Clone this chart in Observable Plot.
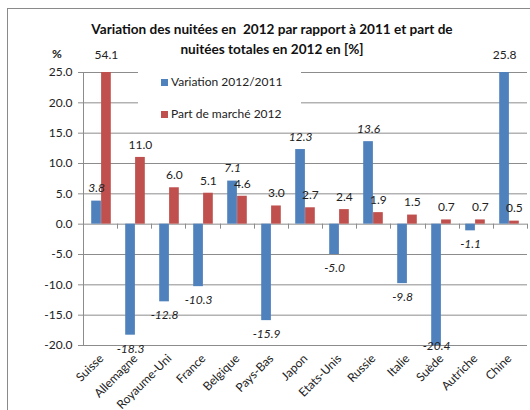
<!DOCTYPE html>
<html>
<head>
<meta charset="utf-8">
<script src="https://cdn.jsdelivr.net/npm/d3@7"></script>
<script src="https://cdn.jsdelivr.net/npm/@observablehq/plot@0.6"></script>
<style>
  html, body { margin: 0; padding: 0; background: #fff; }
  #wrap { position: relative; width: 530px; height: 410px; overflow: hidden; font-family: Lato, "Liberation Sans", sans-serif; color: #222; }
  #frame { position: absolute; left: 7px; top: 8px; width: 540px; height: 420px; border-left: 1px solid #8a8a8a; border-top: 1px solid #8a8a8a; }
  #title { position: absolute; left: 72px; width: 400px; top: 19px; text-align: center; font-weight: bold; font-size: 13.6px; line-height: 20px; color: #111; white-space: nowrap; }
  #pct { position: absolute; left: 52px; top: 46px; font-size: 12px; font-weight: bold; }
  #legend { position: absolute; left: 138px; top: 65px; width: 163px; height: 60px; background: #fff; font-size: 12px; }
  .li { position: absolute; left: 23px; height: 16px; line-height: 16px; white-space: nowrap; }
  .sw { display: inline-block; width: 7px; height: 7px; margin-right: 3px; vertical-align: 0px; }
  #chart { position: absolute; left: 0; top: 0; }
</style>
</head>
<body>
<div id="wrap">
  <div id="chart"></div>
  <div id="frame"></div>
  <div id="title">Variation des nuitées en&nbsp; 2012 par rapport à 2011 et part de<br>nuitées totales en 2012 en [%]</div>
  <div id="pct">%</div>
  <div id="legend"></div>
</div>
<script>
const countries = ["Suisse", "Allemagne", "Royaume-Uni", "France", "Belgique", "Pays-Bas", "Japon", "Etats-Unis", "Russie", "Italie", "Suède", "Autriche", "Chine"];
const variation = [3.8, -18.3, -12.8, -10.3, 7.1, -15.9, 12.3, -5.0, 13.6, -9.8, -20.4, -1.1, 25.8];
const partMarche = [54.1, 11.0, 6.0, 5.1, 4.6, 3.0, 2.7, 2.4, 1.9, 1.5, 0.7, 0.7, 0.5];
const seriesNames = ["Variation 2012/2011", "Part de marché 2012"];
const yTicks = [-20, -15, -10, -5, 0, 5, 10, 15, 20, 25];
const yMin = -20, yMax = 25;

const BLUE = "#4f81bd", RED = "#c0504d";

const rows = countries.map((c, i) => ({country: c, variation: variation[i], part: partMarche[i]}));
const clampV = v => Math.max(yMin, Math.min(yMax, v));

function labelMarks(key, dx, italic) {
  const base = {x: "country", text: d => d[key].toFixed(1), dx, fill: "#222", fontSize: 12};
  return [
    Plot.text(rows.filter(d => d[key] >= 0 && d[key] <= yMax), {...base, y: d => d[key], dy: -12.5, fontStyle: italic ? "italic" : "normal"}),
    Plot.text(rows.filter(d => d[key] < 0 && d[key] >= yMin), {...base, y: d => d[key], dy: 13.5, fontStyle: italic ? "italic" : "normal"}),
    Plot.text(rows.filter(d => d[key] > yMax), {...base, y: d => clampV(d[key]), dy: -17, fontStyle: "normal"}),
    Plot.text(rows.filter(d => d[key] < yMin), {...base, y: d => clampV(d[key]), dy: 1, fontStyle: italic ? "italic" : "normal"})
  ];
}

const plot = Plot.plot({
  width: 530,
  height: 410,
  marginLeft: 83,
  marginRight: 3,
  marginTop: 72,
  marginBottom: 65,
  style: {fontFamily: "Lato, 'Liberation Sans', sans-serif", fontSize: "12px", background: "transparent", overflow: "visible"},
  x: {domain: countries, padding: 0, label: null},
  y: {domain: [yMin, yMax], clamp: true, label: null, ticks: yTicks},
  marks: [
    Plot.gridY(yTicks, {stroke: "#8c8c8c", strokeOpacity: 1}),
    Plot.axisY(yTicks, {tickFormat: d => d.toFixed(1), tickSize: 5, tickPadding: 6, stroke: "#8c8c8c", fill: "#222", fontSize: 12, label: null}),
    Plot.axisX({tickRotate: -45, tickSize: 0, tickPadding: 11, fill: "#222", fontSize: 12, label: null}),
    Plot.barY(rows, {x: "country", y: "variation", fill: BLUE, insetLeft: 7.2, insetRight: 17.1}),
    Plot.barY(rows, {x: "country", y: "part", fill: RED, insetLeft: 17.1, insetRight: 7.2}),
    ...labelMarks("variation", -4.9, true),
    ...labelMarks("part", 4.9, false)
  ]
});

document.getElementById("chart").appendChild(plot);

// axis line and zero-line tick marks derived from the scales
const sx = plot.scale("x"), sy = plot.scale("y");
const svg = d3.select(plot.tagName.toLowerCase() === "svg" ? plot : plot.querySelector("svg"));
const x0 = sx.range[0], x1 = sx.range[1];
const step = (x1 - x0) / sx.domain.length;
const g = svg.append("g").attr("stroke", "#8c8c8c");
g.append("line").attr("x1", x0 + 0.5).attr("x2", x0 + 0.5).attr("y1", sy.apply(yMax)).attr("y2", sy.apply(yMin));
d3.range(sx.domain.length + 1).forEach(i => {
  const xx = Math.round(x0 + i * step) + 0.5;
  g.append("line").attr("x1", xx).attr("x2", xx).attr("y1", sy.apply(0)).attr("y2", sy.apply(0) + 5);
});

// legend
const colors = [BLUE, RED];
const leg = d3.select("#legend");
seriesNames.forEach((n, i) => {
  leg.append("div").attr("class", "li").style("top", (9 + i * 32) + "px")
    .html(`<span class="sw" style="background:${colors[i]}"></span>${n}`);
});
</script>
</body>
</html>
